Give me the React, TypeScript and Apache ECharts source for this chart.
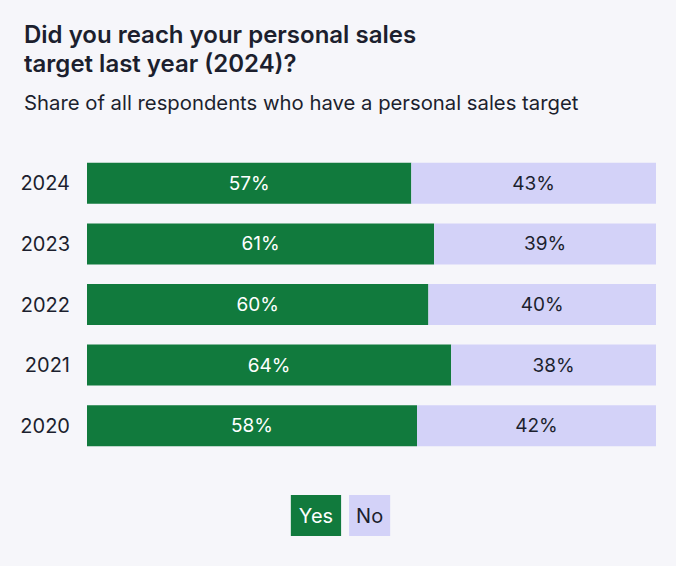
import React, { useEffect, useRef } from 'react';
import * as echarts from 'echarts';

const years = ['2024', '2023', '2022', '2021', '2020'];
const yesValues = [57, 61, 60, 64, 58];
const noValues = [43, 39, 40, 38, 42];

const FONT = 'Inter, "Noto Sans", sans-serif';
const INK = '#1c1f2e';
const GREEN = '#117a3d';
const LAVENDER = '#d3d2f8';

const App: React.FC = () => {
  const chartRef = useRef<HTMLDivElement | null>(null);

  useEffect(() => {
    document.body.style.margin = '0';
    if (!chartRef.current) return;
    const chart = echarts.init(chartRef.current, undefined, { renderer: 'svg' });

    const option: echarts.EChartsOption = {
      animation: false,
      backgroundColor: '#f6f6fa',
      textStyle: { fontFamily: FONT },
      title: {
        text: 'Did you reach your personal sales\ntarget last year (2024)?',
        subtext: 'Share of all respondents who have a personal sales target',
        left: 19,
        top: 15,
        itemGap: 13,
        textStyle: {
          fontFamily: FONT,
          fontSize: 24,
          fontWeight: 600,
          color: INK,
          lineHeight: 29,
        },
        subtextStyle: {
          fontFamily: FONT,
          fontSize: 20.3,
          color: INK,
          lineHeight: 22,
        },
      },
      legend: {
        bottom: 25,
        left: 'center',
        icon: 'none',
        itemWidth: 0,
        itemGap: 3,
        selectedMode: false,
        data: [
          {
            name: 'Yes',
            textStyle: {
              backgroundColor: GREEN,
              color: '#ffffff',
              padding: [10, 8, 11, 8],
              fontSize: 20,
              fontFamily: FONT,
            },
          },
          {
            name: 'No',
            textStyle: {
              backgroundColor: LAVENDER,
              color: INK,
              padding: [10, 7, 11, 7],
              fontSize: 20,
              fontFamily: FONT,
            },
          },
        ],
      },
      grid: { left: 87, right: 20, top: 153, bottom: 110, containLabel: false },
      xAxis: {
        type: 'value',
        min: 0,
        max: 100,
        show: false,
      },
      yAxis: {
        type: 'category',
        inverse: true,
        data: years,
        axisLine: { show: false },
        axisTick: { show: false },
        axisLabel: {
          fontSize: 20,
          color: INK,
          fontFamily: FONT,
          margin: 17,
        },
      },
      series: [
        {
          name: 'Yes',
          type: 'bar',
          stack: 'total',
          barWidth: 41,
          data: yesValues,
          itemStyle: { color: GREEN },
          label: {
            show: true,
            position: 'inside',
            formatter: '{c}%',
            color: '#ffffff',
            fontSize: 19,
            fontFamily: FONT,
          },
        },
        {
          name: 'No',
          type: 'bar',
          stack: 'total',
          barWidth: 41,
          clip: true,
          data: noValues,
          itemStyle: { color: LAVENDER },
          label: {
            show: true,
            position: 'inside',
            formatter: '{c}%',
            color: INK,
            fontSize: 19,
            fontFamily: FONT,
          },
        },
      ],
    };

    chart.setOption(option);

    return () => {
      chart.dispose();
    };
  }, []);

  return (
    <div
      ref={chartRef}
      style={{ position: 'absolute', left: 0, top: 0, width: '676px', height: '566px' }}
    />
  );
};

export default App;
